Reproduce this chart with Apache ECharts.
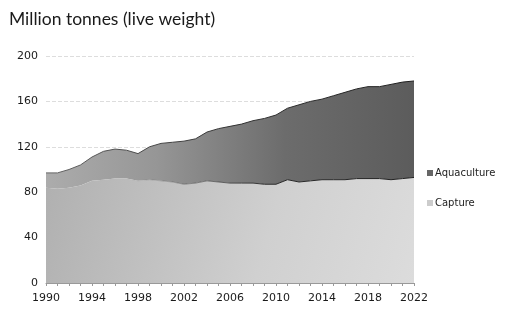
<!DOCTYPE html>
<html>
<head>
<meta charset="utf-8">
<script src="https://cdn.jsdelivr.net/npm/echarts@6/dist/echarts.min.js"></script>
<style>
  html, body { margin: 0; padding: 0; background: #fff; }
  #chart { width: 505px; height: 311px; }
</style>
</head>
<body>
<div id="chart"></div>
<script>
// years on the x axis
var years = [];
for (var y = 1990; y <= 2022; y++) {
    years.push(String(y));
}

// million tonnes
var capture = [84, 83, 84, 86, 90, 91, 92, 92, 90, 91, 90, 89, 87, 88, 90, 89, 88,
    88, 88, 87, 87, 91, 89, 90, 91, 91, 91, 92, 92, 92, 91, 92, 93];
var aquaculture = [13, 14, 16, 18, 21, 25, 26, 25, 24, 29, 33, 35, 38, 39, 43, 47, 50,
    52, 55, 58, 61, 63, 68, 70, 71, 74, 77, 79, 81, 81, 84, 85, 85];

var yTicks = [0, 40, 80, 120, 160, 200];

var myChart = echarts.init(document.getElementById('chart'));

var option = {
    animation: false,
    title: {
        text: 'Million tonnes (live weight)',
        left: 4,
        top: 5,
        textStyle: {
            fontFamily: 'Lato',
            fontSize: 17.5,
            fontWeight: 'normal',
            color: '#1a1a1a'
        }
    },
    legend: {
        orient: 'vertical',
        left: 422,
        top: 163,
        itemGap: 20,
        itemWidth: 6,
        itemHeight: 6,
        icon: 'rect',
        data: [
            {name: 'Aquaculture', itemStyle: {color: '#666'}},
            {name: 'Capture', itemStyle: {color: '#ccc'}}
        ],
        textStyle: {fontFamily: 'DejaVu Sans', fontSize: 10, color: '#222', padding: [0, 0, 0, -3]}
    },
    grid: {
        left: 46,
        right: 91,
        top: 56,
        bottom: 28
    },
    xAxis: {
        type: 'category',
        boundaryGap: false,
        data: years,
        axisLine: {lineStyle: {color: '#999', width: 1}},
        axisTick: {show: true, interval: 0, length: 3, lineStyle: {color: '#999'}},
        axisLabel: {
            interval: 3,
            fontFamily: 'DejaVu Sans',
            fontSize: 11,
            color: '#1a1a1a',
            margin: 10
        },
        splitLine: {show: false}
    },
    yAxis: {
        type: 'value',
        min: yTicks[0],
        max: yTicks[yTicks.length - 1],
        interval: 40,
        axisLine: {show: false},
        axisTick: {show: false},
        axisLabel: {
            fontFamily: 'DejaVu Sans',
            fontSize: 11,
            color: '#1a1a1a',
            margin: 8
        },
        splitLine: {lineStyle: {color: '#ddd', type: 'dashed', width: 1}}
    },
    series: [
        {
            name: 'Capture',
            type: 'line',
            stack: 'total',
            data: capture,
            symbol: 'none',
            lineStyle: {
                width: 1,
                color: new echarts.graphic.LinearGradient(0, 0, 1, 0, [
                    {offset: 0, color: 'rgba(60,60,60,0)'},
                    {offset: 0.22, color: 'rgba(60,60,60,0)'},
                    {offset: 0.4, color: 'rgba(60,60,60,0.5)'},
                    {offset: 0.6, color: 'rgba(40,40,40,1)'},
                    {offset: 1, color: 'rgba(30,30,30,1)'}
                ])
            },
            areaStyle: {
                opacity: 1,
                color: new echarts.graphic.LinearGradient(0, 0, 1, 1, [
                    {offset: 0, color: '#b0b0b0'},
                    {offset: 0.6, color: '#d0d0d0'},
                    {offset: 1, color: '#dcdcdc'}
                ])
            },
            z: 3
        },
        {
            name: 'Aquaculture',
            type: 'line',
            stack: 'total',
            data: aquaculture,
            symbol: 'none',
            lineStyle: {
                width: 1,
                color: new echarts.graphic.LinearGradient(0, 0, 1, 0, [
                    {offset: 0, color: '#666'},
                    {offset: 0.5, color: '#333'},
                    {offset: 1, color: '#1e1e1e'}
                ])
            },
            areaStyle: {
                opacity: 1,
                color: new echarts.graphic.LinearGradient(0, 0, 1, 0, [
                    {offset: 0, color: '#acacac'},
                    {offset: 0.3, color: '#969696'},
                    {offset: 0.65, color: '#6c6c6c'},
                    {offset: 1, color: '#5c5c5c'}
                ])
            },
            z: 2
        }
    ]
};

myChart.setOption(option);
</script>
</body>
</html>
